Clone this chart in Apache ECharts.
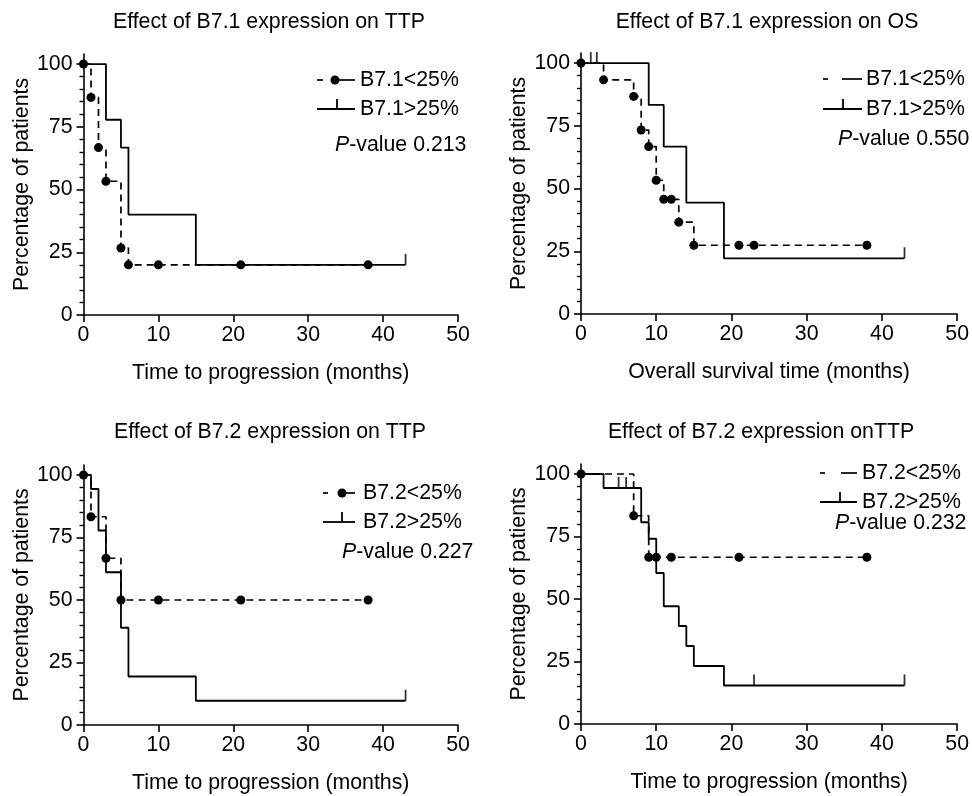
<!DOCTYPE html>
<html><head><meta charset="utf-8">
<script src="https://cdn.jsdelivr.net/npm/echarts@6/dist/echarts.min.js"></script>
<style>html,body{margin:0;padding:0;background:#fff}#c{width:972px;height:796px}</style>
</head><body><div id="c"></div>
<script>
// ---------------- DATA ----------------
// [time (months), percentage of patients]
// Panel A: Effect of B7.1 expression on TTP
const a_low  = [[0,100],[1,86.7],[2,66.7],[3,53.3],[5,26.7],[6,20],[10,20],[21,20],[38,20]];
const a_high = [[0,100],[3,77.8],[5,66.7],[6,40],[15,20],[43,20]];
const a_high_censored = [[43,20]];
// Panel B: Effect of B7.1 expression on OS
const b_low  = [[0,100],[3,93.3],[7,86.7],[8,73.3],[9,66.7],[10,53.3],[11,45.7],[12,45.7],[13,36.6],[15,27.4],[21,27.4],[23,27.4],[38,27.4]];
const b_high = [[0,100],[9,83.3],[11,66.7],[14,44.4],[19,22.2],[43,22.2]];
const b_high_censored = [[1.3,100],[2.1,100],[43,22.2]];
// Panel C: Effect of B7.2 expression on TTP
const c_low  = [[0,100],[1,83.3],[3,66.7],[5,50],[10,50],[21,50],[38,50]];
const c_high = [[0,100],[1,94.4],[2,77.8],[3,61.1],[5,38.9],[6,19.4],[15,9.7],[43,9.7]];
const c_high_censored = [[43,9.7]];
// Panel D: Effect of B7.2 expression onTTP
const d_low  = [[0,100],[7,83.3],[9,66.7],[10,66.7],[12,66.7],[21,66.7],[38,66.7]];
const d_high = [[0,100],[3,94.4],[8,80.7],[9,74.1],[10,60.4],[11,47.1],[13,39.2],[14,31.2],[15,23.2],[19,15.4],[43,15.4]];
const d_high_censored = [[5,94.4],[6,94.4],[23,15.4],[43,15.4]];

const titles = ['Effect of B7.1 expression on TTP','Effect of B7.1 expression on OS','Effect of B7.2 expression on TTP','Effect of B7.2 expression onTTP'];
const xNames = ['Time to progression (months)','Overall survival time (months)','Time to progression (months)','Time to progression (months)'];
const yName = 'Percentage of patients';
const lowNames  = ['B7.1<25%','B7.1<25%','B7.2<25%','B7.2<25%'];
const highNames = ['B7.1>25%','B7.1>25%','B7.2>25%','B7.2>25%'];
const pValues = ['0.213','0.550','0.227','0.232'];
const yMajorTicks = [0,25,50,75,100];
const xTicks = [0,10,20,30,40,50];

const lows = [a_low,b_low,c_low,d_low];
const highs = [a_high,b_high,c_high,d_high];
const cens = [a_high_censored,b_high_censored,c_high_censored,d_high_censored];

// ---------------- LAYOUT ----------------
const FONT = "'Liberation Sans', Arial, Helvetica, sans-serif";
const FS = 21.3;
const grids = [
  {left:83.5, top:54, width:374.5, height:261},
  {left:581,  top:53, width:377,   height:261},
  {left:83.5, top:465, width:374.5, height:260},
  {left:581,  top:464, width:377,   height:260}
];
const titlePos = [[269,12],[767,12],[270,422],[761,422]];
// legend layout per panel
const legendLayout = [
  {y1:80,  y2:109, yP:145, ds:317, de:323, dot:335,  ls:335, le:355, tick:337, tx:360, px:335},
  {y1:79,  y2:109, yP:139, ds:823, de:828, dot:null, ls:842, le:862, tick:843, tx:866, px:838},
  {y1:493, y2:522, yP:552, ds:323, de:328, dot:342,  ls:342, le:355, tick:342, tx:363, px:342},
  {y1:473, y2:502, yP:523, ds:820, de:825, dot:null, ls:841, le:857, tick:840, tx:862, px:835}
];
const minorTicks = [];
for (let v = 5; v < 100; v += 5) if (v % 25 !== 0) minorTicks.push(v);

const black = '#000';
const xAxis = [], yAxis = [], series = [], title = [], graphic = [];
for (let i = 0; i < 4; i++) {
  title.push({text: titles[i], left: titlePos[i][0], top: titlePos[i][1], textAlign:'center', padding:0,
    textStyle:{fontSize:FS, fontWeight:'normal', color:black, fontFamily:FONT}});
  xAxis.push({gridIndex:i, type:'value', min:0, max:50, interval:10,
    axisLine:{lineStyle:{color:black, width:1.6}},
    axisTick:{length:7, lineStyle:{color:black, width:1.6}},
    axisLabel:{color:black, fontSize:FS, fontFamily:FONT, margin:10, customValues:xTicks},
    splitLine:{show:false},
    name:xNames[i], nameLocation:'middle', nameGap:48,
    nameTextStyle:{color:black, fontSize:FS, fontFamily:FONT}});
  yAxis.push({gridIndex:i, type:'value', min:0, max:104, position:'left',
    axisLine:{show:true, lineStyle:{color:black, width:1.6}},
    axisTick:{show:true, length:7, customValues:yMajorTicks, lineStyle:{color:black, width:1.6}},
    axisLabel:{color:black, fontSize:FS, fontFamily:FONT, margin:11, customValues:yMajorTicks},
    splitLine:{show:false},
    name:yName, nameLocation:'middle', nameGap:51,
    nameTextStyle:{color:black, fontSize:FS, fontFamily:FONT}});
  yAxis.push({gridIndex:i, type:'value', min:0, max:104, position:'left',
    axisLine:{show:false},
    axisTick:{show:true, length:4, customValues:minorTicks, lineStyle:{color:black, width:1.4}},
    axisLabel:{show:false}, splitLine:{show:false}});
  series.push({type:'line', name:lowNames[i], xAxisIndex:i, yAxisIndex:2*i, data:lows[i],
    step:'end', symbol:'circle', symbolSize:9, showSymbol:true, showAllSymbol:true,
    lineStyle:{color:black, width:1.7, type:[7,5]}, itemStyle:{color:black}, z:3, animation:false});
  series.push({type:'line', name:highNames[i], xAxisIndex:i, yAxisIndex:2*i, data:highs[i],
    step:'end', symbol:'none', lineStyle:{color:black, width:1.8, type:'solid'}, z:2, animation:false});
  series.push({type:'scatter', name:highNames[i]+' censored', xAxisIndex:i, yAxisIndex:2*i, data:cens[i],
    symbol:'rect', symbolSize:[1.8,11], symbolOffset:[0,'-50%'], itemStyle:{color:black}, z:2, animation:false});

  const L = legendLayout[i];
  graphic.push({type:'line', shape:{x1:L.ds, y1:L.y1, x2:L.de, y2:L.y1}, style:{stroke:black, lineWidth:1.7}});
  graphic.push({type:'line', shape:{x1:L.ls, y1:L.y1, x2:L.le, y2:L.y1}, style:{stroke:black, lineWidth:1.7}});
  if (L.dot !== null) graphic.push({type:'circle', shape:{cx:L.dot, cy:L.y1, r:4.5}, style:{fill:black}});
  graphic.push({type:'text', x:L.tx, y:L.y1, style:{text:lowNames[i], fontSize:FS, fontFamily:FONT, fill:black, verticalAlign:'middle'}});
  graphic.push({type:'line', shape:{x1:L.ds, y1:L.y2, x2:L.le, y2:L.y2}, style:{stroke:black, lineWidth:1.8}});
  graphic.push({type:'line', shape:{x1:L.tick, y1:L.y2, x2:L.tick, y2:L.y2-10}, style:{stroke:black, lineWidth:1.8}});
  graphic.push({type:'text', x:L.tx, y:L.y2, style:{text:highNames[i], fontSize:FS, fontFamily:FONT, fill:black, verticalAlign:'middle'}});
  graphic.push({type:'text', x:L.px, y:L.yP, style:{text:'{i|P}-value ' + pValues[i], fontSize:FS, fontFamily:FONT, fill:black, verticalAlign:'middle',
    rich:{i:{fontStyle:'italic', fontSize:FS, fontFamily:FONT, fill:black}}}});
}

const chart = echarts.init(document.getElementById('c'), null, {renderer:'canvas'});
chart.setOption({
  backgroundColor:'#fff',
  animation:false,
  title: title,
  grid: grids,
  xAxis: xAxis,
  yAxis: yAxis,
  series: series,
  graphic: graphic
});
</script></body></html>
